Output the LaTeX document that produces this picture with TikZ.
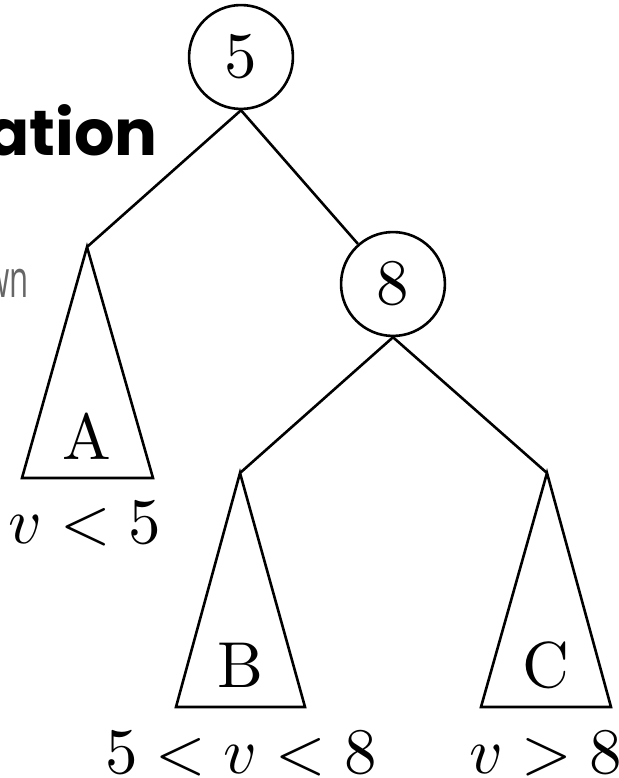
\documentclass[tikz,border=0pt]{standalone}
\usepackage{fontspec}
\usepackage{tikz}
\newfontfamily\slidefont{Poppins}[BoldFont={Poppins Bold}]
\newfontfamily\bodyfont{Open Sans}[FakeStretch=0.6]
\tikzset{every node/.append style={font=\normalsize}}
\tikzset{
  key/.style={draw, circle, minimum size=16pt, inner sep=0pt},
  lab/.style={anchor=base, inner sep=0pt},
}

\begin{document}
\begin{tikzpicture}[x=0.154pt, y=-0.154pt, line width=0.4pt]
    \useasboundingbox (0,0) rectangle (619,778);
    \clip (0,0) rectangle (619,778);
    % cut-off slide text
    \node[anchor=base east, inner sep=0pt, font=\slidefont\bfseries\fontsize{9.8}{12}\selectfont] (title) at (159,155) {ation};
    \node[anchor=base east, inner sep=0pt, text=black!60, font=\bodyfont\fontsize{8}{9}\selectfont] (body) at (30,297) {wn};
    % tree
    \node[key] (n5) at (241,57) {$5$};
    \node[key] (n8) at (393,284) {$8$};
    \coordinate (a) at (87,247);
    \coordinate (b) at (240,473);
    \coordinate (c) at (547,473);
    \draw (n5.south) -- (a);
    \draw (n5.south) -- (n8);
    \draw (n8.south) -- (b);
    \draw (n8.south) -- (c);
    \draw (a) -- (22,478) -- (153,478) -- cycle;
    \draw (b) -- (176,707) -- (305,707) -- cycle;
    \draw (c) -- (481,707) -- (611,707) -- cycle;
    \node[lab] (tA) at (87,459) {A};
    \node[lab] (tB) at (240,687) {B};
    \node[lab] (tC) at (546,687) {C};
    \node[lab] (rA) at (85,543) {$v<5$};
    \node[lab] (rB) at (241,773) {$5<v<8$};
    \node[lab] (rC) at (546,773) {$v>8$};
\end{tikzpicture}
\end{document}
